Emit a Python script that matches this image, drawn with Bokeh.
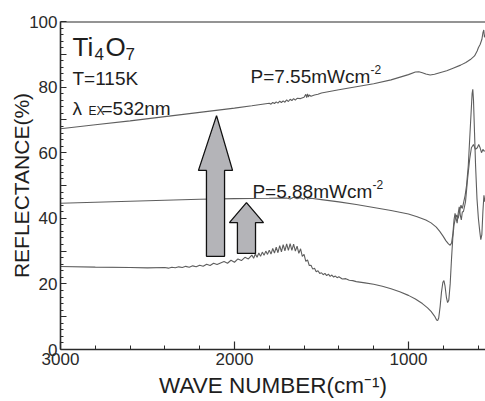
from bokeh.plotting import figure
from bokeh.models import Range1d, Span, Label, FixedTicker
from bokeh.embed import file_html
from bokeh.resources import INLINE

# ---------------- data ----------------
# top curve, P = 7.55 mW cm^-2
top_wn = [3000, 2800, 2600, 2400, 2200, 2000, 1900, 1800, 1790, 1780, 1770, 1760, 1750, 1740, 1730,
          1720, 1710, 1700, 1690, 1680, 1670, 1660, 1650, 1640, 1620, 1600, 1590, 1585, 1580, 1575,
          1570, 1560, 1540, 1520, 1500, 1400, 1300, 1200, 1100, 1000, 960, 940, 920, 900, 875, 850,
          820, 780, 747, 700, 670, 644, 620, 605, 598, 588, 578, 572, 567, 563, 557]
top_r = [67.3, 68.5, 69.7, 71.0, 72.3, 73.6, 74.3, 75.1, 74.8, 75.3, 75.0, 75.5, 75.1, 75.7, 75.3,
         75.8, 75.4, 76.1, 75.6, 76.3, 75.9, 76.5, 76.0, 76.6, 76.5, 76.9, 77.8, 76.8, 77.9, 77.0,
         77.6, 77.2, 77.6, 77.8, 78.2, 79.2, 80.1, 81.0, 82.2, 83.8, 84.6, 84.7, 84.4, 84.0, 83.7, 83.9,
         84.4, 85.0, 85.7, 86.7, 87.5, 88.4, 89.5, 91.0, 92.0, 93.0, 94.5, 96.5, 97.4, 95.2, 96.0]

# middle curve, P = 5.88 mW cm^-2
mid_wn = [3000, 2800, 2600, 2400, 2200, 2000, 1800, 1700, 1680, 1660, 1640, 1620, 1600, 1590, 1580,
          1560, 1500, 1400, 1300, 1200, 1100, 1000, 950, 900, 870, 840, 820, 800, 785, 770, 760, 752,
          745, 738, 732, 726, 720, 714, 708, 702, 696, 690, 684, 672, 660, 648, 638, 626, 615, 604,
          596, 588, 580, 572, 565, 557]
mid_r = [44.6, 44.9, 45.2, 45.5, 45.8, 46.0, 46.1, 46.2, 45.9, 46.4, 46.0, 46.3, 45.8, 46.6, 45.9,
         46.1, 45.7, 45.0, 44.2, 43.3, 42.4, 41.3, 40.5, 39.5, 38.6, 37.3, 36.0, 34.5, 33.2, 32.2, 31.8, 32.5,
         35.0, 39.5, 41.5, 40.0, 38.5, 41.5, 43.5, 41.0, 39.5, 42.0, 42.0, 45.0, 52.0, 58.0, 61.5, 62.5, 61.0, 61.5,
         62.5, 61.5, 60.0, 61.0, 60.5, 60.5]

# bottom curve (lowest excitation)
bot_wn = [3000, 2800, 2600, 2500, 2400, 2380, 2360, 2340, 2320, 2300, 2280, 2260, 2240, 2220, 2200,
          2180, 2160, 2140, 2120, 2100,
          2080, 2060, 2040, 2020, 2000, 1980, 1960, 1940, 1920, 1900, 1890, 1880, 1870, 1860, 1850,
          1840, 1830, 1820, 1810, 1800, 1790, 1780, 1770, 1760, 1750, 1740, 1730, 1720, 1710, 1700,
          1690, 1680, 1670, 1660, 1650, 1640, 1630, 1620, 1610, 1600, 1590, 1580, 1570, 1560, 1550,
          1540, 1530, 1520, 1510, 1500, 1490, 1480, 1470, 1460, 1450, 1440, 1430, 1420, 1410, 1400,
          1380, 1360, 1340, 1320, 1300, 1250, 1200, 1150, 1100, 1050, 1000, 960, 920, 890, 870, 850,
          838, 832, 826, 818, 810, 802, 796, 790, 782, 775, 768, 760, 752, 745, 738, 730, 722, 714,
          706, 698, 690, 682, 674, 666, 656, 648, 640, 634, 630, 626, 620, 614, 606, 598, 590, 584,
          578, 572, 566, 560, 557]
bot_r = [25.3, 25.1, 25.0, 24.9, 25.0, 24.8, 25.1, 24.9, 25.2, 25.0, 25.35, 25.1, 25.5, 25.2, 25.7,
         25.4, 26.0, 25.6, 26.3, 25.9,
         26.4, 26.8, 26.3, 27.2, 26.6, 27.6, 27.1, 28.1, 27.6, 28.8, 27.8, 29.1, 28.1, 29.4, 28.4,
         29.7, 28.7, 30.0, 29.0, 30.3, 29.1, 30.8, 29.4, 31.2, 29.5, 31.7, 29.8, 32.0, 30.1, 32.2,
         30.2, 32.3, 30.2, 32.1, 30.0, 31.5, 29.3, 30.7, 28.4, 29.0, 26.9, 27.3, 25.6, 25.7, 24.5,
         24.8, 23.7, 24.0, 23.2, 23.4, 22.8, 23.2, 22.5, 23.0, 22.3, 22.7, 22.1, 22.4, 21.9, 22.2,
         21.5, 21.6, 21.1, 21.0, 20.7, 20.3, 19.9, 19.3, 18.5, 17.6, 16.5, 15.4, 14.0, 12.7, 11.6, 10.2,
         9.0, 8.8, 9.6, 13.0, 17.5, 20.5, 21.0, 19.5, 16.0, 14.3, 15.0, 20.0, 28.0, 34.0, 38.0, 40.0, 41.0, 40.0,
         42.0, 44.0, 43.0, 45.0, 47.0, 50.0, 56.0, 64.0, 72.0, 78.0, 79.3, 76.0, 66.0, 56.0, 46.0, 40.0, 36.0, 33.5,
         35.0, 42.0, 47.0, 45.0, 46.0]

# arrows: [tip_x, tip_y, head_left, head_right, head_base_y, shaft_left, shaft_right, bottom_y]
arrow_big = [2103, 71.3, 2207, 2011, 54.6, 2161, 2057, 28.4]
arrow_small = [1931, 44.8, 2029, 1833, 38.7, 1983, 1879, 29.3]

x_major = [3000, 2000, 1000]
x_minor = [2800, 2600, 2400, 2200, 1800, 1600, 1400, 1200, 800, 600]
y_major = [0, 10, 20, 30, 40, 50, 60, 70, 80, 90, 100]
y_labels = {0: "0", 10: "", 20: "20", 30: "", 40: "40", 50: "", 60: "60", 70: "", 80: "80", 90: "", 100: "100"}

FONT = "Liberation Sans"
AX = "#2a2a2a"
LINE = "#5e5e5e"

p = figure(width=485, height=401, output_backend="svg", toolbar_location=None,
           x_range=Range1d(3000, 557), y_range=Range1d(0, 100),
           min_border_left=60, min_border_right=0, min_border_top=21, min_border_bottom=52)
p.outline_line_color = None
p.grid.visible = False
p.background_fill_color = "white"
p.border_fill_color = "white"

for ax in (p.xaxis[0], p.yaxis[0]):
    ax.axis_line_color = AX
    ax.axis_line_width = 1.6
    ax.major_tick_line_color = AX
    ax.minor_tick_line_color = AX
    ax.major_tick_line_width = 1.2
    ax.minor_tick_line_width = 1.0
    ax.major_tick_out = 0
    ax.minor_tick_out = 0
    ax.major_label_text_font = FONT
    ax.major_label_text_font_size = "17px"
    ax.major_label_text_color = AX
    ax.axis_label_text_font = FONT
    ax.axis_label_text_font_style = "normal"
    ax.axis_label_text_color = "#1e1e1e"

p.xaxis.ticker = FixedTicker(ticks=x_major, minor_ticks=x_minor)
p.xaxis.major_tick_in = 8
p.xaxis.minor_tick_in = 4
p.xaxis.major_label_standoff = 3
p.xaxis.axis_label = "WAVE NUMBER(cm\u207b\u00b9)"
p.xaxis.axis_label_standoff = 5
p.xaxis.axis_label_text_font_size = "22.5px"

p.yaxis.ticker = FixedTicker(ticks=y_major, minor_ticks=[v for v in range(0, 101, 2) if v % 10])
p.yaxis.major_label_overrides = y_labels
p.yaxis.major_tick_in = 6
p.yaxis.minor_tick_in = 3
p.yaxis.major_label_standoff = 3
p.yaxis.axis_label = "REFLECTANCE(%)"
p.yaxis.axis_label_standoff = -7
p.yaxis.axis_label_text_font_size = "21px"

p.add_layout(Span(location=100, dimension="width", line_color=AX, line_width=2))

for wn, r in ((bot_wn, bot_r), (mid_wn, mid_r), (top_wn, top_r)):
    p.line(x=wn, y=r, line_color=LINE, line_width=1.1)


def arrow_poly(a):
    tx, ty, hl, hr, hb, sl, sr, by = a
    return [sl, sl, hl, tx, hr, sr, sr], [by, hb, hb, ty, hb, hb, by]

for a in (arrow_big, arrow_small):
    xs, ys = arrow_poly(a)
    p.patch(x=xs, y=ys, fill_color="#b4b4b8", line_color="#111111", line_width=1.3)


def lab(x, y, text, size, dx=0, dy=0):
    p.add_layout(Label(x=x, y=y, text=text, x_offset=dx, y_offset=dy, text_font=FONT,
                       text_font_size=size, text_color="#1e1e1e", text_baseline="alphabetic"))

# Ti4O7
lab(2931, 92.1, "Ti", "26px")
lab(2931, 92.1, "4", "17px", dx=22, dy=-7)
lab(2931, 92.1, "O", "26px", dx=33)
lab(2931, 92.1, "7", "17px", dx=53, dy=-7)
lab(2931, 82.6, "T=115K", "19px")
lab(2931, 73.5, "\u03bb", "19px")
lab(2931, 73.5, "EX", "12px", dx=16, dy=-3)
lab(2931, 73.5, "=532nm", "19px", dx=29)
lab(1908, 83.2, "P=7.55mWcm", "19px")
lab(1908, 83.2, "-2", "12px", dx=120, dy=7)
lab(1897, 48.2, "P=5.88mWcm", "19px")
lab(1897, 48.2, "-2", "12px", dx=120, dy=7)

open("out.html", "w").write(file_html(p, INLINE))
